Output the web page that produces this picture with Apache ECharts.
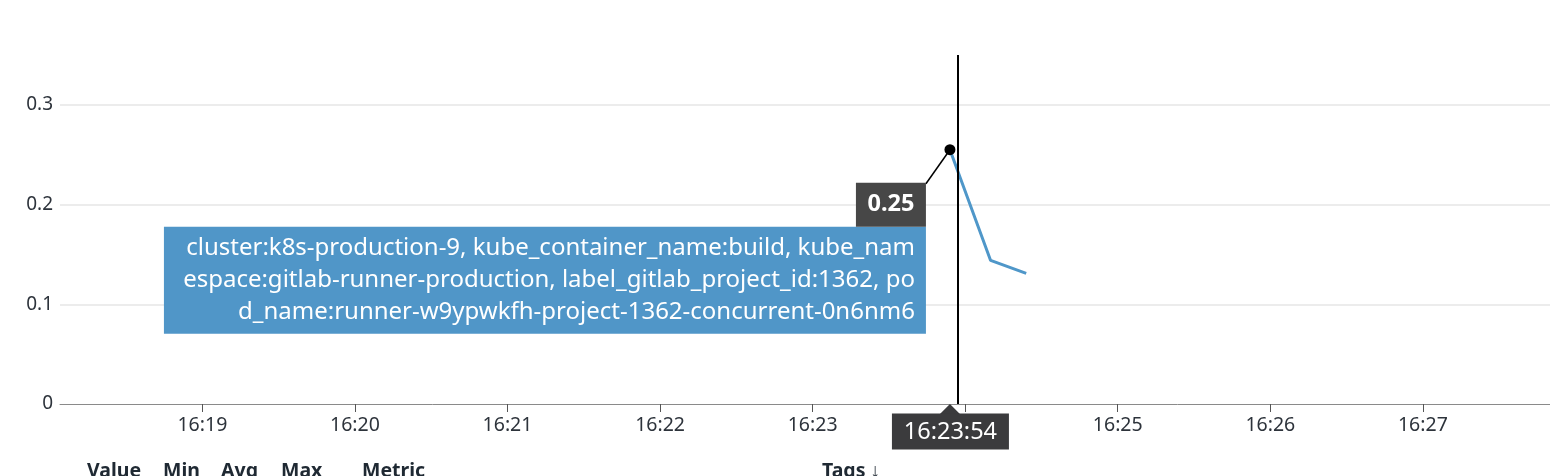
<!DOCTYPE html>
<html>
<head>
<meta charset="utf-8">
<script src="https://cdn.jsdelivr.net/npm/echarts@6/dist/echarts.min.js"></script>
<style>
html,body{margin:0;padding:0;background:#fff;}
#chart{width:1550px;height:476px;}
</style>
</head>
<body>
<div id="chart"></div>
<script>
// ---- data ----
const day = [2024, 0, 1];
const seriesTimes = ['16:23:54', '16:24:10', '16:24:24'];
const seriesValues = [0.255, 0.144, 0.131];
const xTickLabels = ['16:19', '16:20', '16:21', '16:22', '16:23', '16:24', '16:25', '16:26', '16:27'];
const yTicks = [0, 0.1, 0.2, 0.3];
const xRange = ['16:18:04', '16:27:50'];
const crosshairTime = '16:23:57';
const hoverIndex = 0;
const hoverValueLabel = '0.25';
const hoverTimeLabel = '16:23:54';
const seriesTags = [
  'cluster:k8s-production-9, kube_container_name:build, kube_nam',
  'espace:gitlab-runner-production, label_gitlab_project_id:1362, po',
  'd_name:runner-w9ypwkfh-project-1362-concurrent-0n6nm6'
];
const headerLabels = ['Value', 'Min', 'Avg', 'Max', 'Metric', 'Tags \u2193'];
const headerX = [87, 163, 221, 281, 362, 822];

function toTs(s) {
  const p = s.split(':').map(Number);
  return new Date(day[0], day[1], day[2], p[0], p[1], p[2] || 0).getTime();
}
function pad(n) { return (n < 10 ? '0' : '') + n; }

const lineData = seriesTimes.map((t, i) => [toTs(t), seriesValues[i]]);
const xTickValues = xTickLabels.map(toTs);
const FONT = '"Noto Sans", "Open Sans", sans-serif';
const BLUE = '#4f97c9';

const chart = echarts.init(document.getElementById('chart'));
chart.setOption({
  animation: false,
  grid: { left: 60, right: 0, top: 55, bottom: 72, containLabel: false },
  xAxis: {
    type: 'value',
    min: toTs(xRange[0]),
    max: toTs(xRange[1]),
    axisLine: { show: true, lineStyle: { color: '#8a8a8a', width: 1 } },
    axisTick: { show: true, length: 8, lineStyle: { color: '#555', width: 1 }, customValues: xTickValues },
    axisLabel: {
      customValues: xTickValues,
      color: '#2d333b', fontFamily: FONT, fontSize: 19.5, margin: 11,
      formatter: v => { const d = new Date(v); return pad(d.getHours()) + ':' + pad(d.getMinutes()); }
    },
    splitLine: { show: false }
  },
  yAxis: {
    type: 'value',
    min: 0, max: 0.35, interval: 0.1,
    axisLine: { show: false },
    axisTick: { show: false },
    axisLabel: {
      customValues: yTicks,
      color: '#2d333b', fontFamily: FONT, fontSize: 19, margin: 7,
      formatter: v => String(Math.round(v * 10) / 10)
    },
    splitLine: { show: true, showMinLine: false, showMaxLine: false, lineStyle: { color: '#e6e6e6', width: 1.5 } }
  },
  series: [{
    type: 'line',
    data: lineData,
    showSymbol: false,
    lineStyle: { color: BLUE, width: 3 },
    itemStyle: { color: BLUE },
    z: 3,
    markLine: {
      silent: true,
      symbol: ['none', 'none'],
      label: { show: false },
      lineStyle: { color: '#000', width: 2, type: 'solid' },
      data: [{ xAxis: toTs(crosshairTime) }],
      z: 4
    },
    markPoint: {
      symbol: 'circle',
      symbolSize: 11,
      itemStyle: { color: '#000' },
      label: { show: false },
      data: [{ coord: lineData[hoverIndex] }],
      z: 6
    }
  }]
});

// tooltip overlay anchored to the hovered data point
const pt = chart.convertToPixel({ gridIndex: 0 }, lineData[hoverIndex]);
const axisY = chart.convertToPixel({ yAxisIndex: 0 }, 0);
const dx = pt[0], dy = pt[1];
const valBox = { right: dx - 24, top: dy + 33, w: 70, h: 44 };
const tagBox = { right: dx - 24, top: dy + 77, w: 762, h: 107 };
const graphics = [];
graphics.push({
  type: 'line', z: 20,
  shape: { x1: dx, y1: dy, x2: valBox.right, y2: valBox.top + 1 },
  style: { stroke: '#000', lineWidth: 1.5 }
});
graphics.push({
  type: 'rect', z: 20,
  shape: { x: tagBox.right - tagBox.w, y: tagBox.top, width: tagBox.w, height: tagBox.h },
  style: { fill: '#5096c8' }
});
seriesTags.forEach((t, i) => {
  graphics.push({
    type: 'text', z: 21,
    x: tagBox.right - 11, y: tagBox.top + 21 + i * 32,
    style: { text: t, fill: '#fff', font: '24px ' + FONT, align: 'right', verticalAlign: 'middle' }
  });
});
graphics.push({
  type: 'rect', z: 22,
  shape: { x: valBox.right - valBox.w, y: valBox.top, width: valBox.w, height: valBox.h },
  style: { fill: '#474747' }
});
graphics.push({
  type: 'text', z: 23,
  x: valBox.right - valBox.w / 2, y: valBox.top + valBox.h / 2,
  style: { text: hoverValueLabel, fill: '#fff', font: 'bold 23.5px ' + FONT, align: 'center', verticalAlign: 'middle' }
});
// time tooltip on x axis
graphics.push({
  type: 'polygon', z: 20,
  shape: { points: [[dx - 10, axisY + 10], [dx, axisY], [dx + 10, axisY + 10]] },
  style: { fill: '#3b3b3d' }
});
graphics.push({
  type: 'rect', z: 20,
  shape: { x: dx - 58, y: axisY + 9.5, width: 117, height: 36 },
  style: { fill: '#3b3b3d' }
});
graphics.push({
  type: 'text', z: 21,
  x: dx + 0.5, y: axisY + 28,
  style: { text: hoverTimeLabel, fill: '#fff', font: '23.5px ' + FONT, align: 'center', verticalAlign: 'middle' }
});
// legend table header (cut off at bottom)
headerLabels.forEach((h, i) => {
  graphics.push({
    type: 'text', z: 10,
    x: headerX[i], y: 471,
    style: { text: h, fill: '#1f2933', font: 'bold 19.5px ' + FONT, align: 'left', verticalAlign: 'middle' }
  });
});
chart.setOption({ graphic: graphics });
</script>
</body>
</html>
